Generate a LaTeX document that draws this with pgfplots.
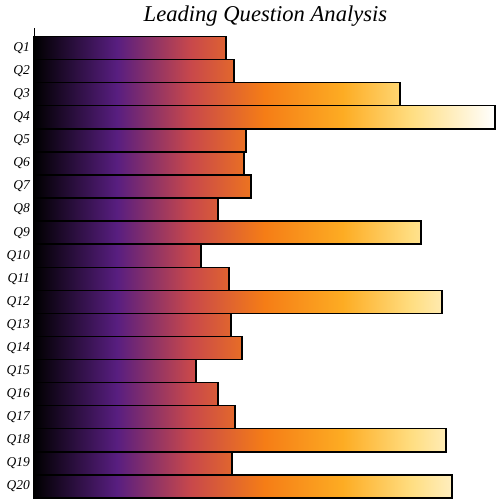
\documentclass[border=0pt]{standalone}
\usepackage{pgfplots}
\pgfplotsset{compat=1.18}
\usepackage{fontspec}
\setmainfont{Liberation Serif}
\definecolor{g0}{RGB}{0,0,0}
\definecolor{g1}{RGB}{88,30,128}
\definecolor{g2}{RGB}{200,72,75}
\definecolor{g3}{RGB}{245,125,22}
\definecolor{g4}{RGB}{253,172,35}
\definecolor{g5}{RGB}{255,222,130}
\definecolor{g6}{RGB}{255,255,255}
\pgfdeclarehorizontalshading{grad}{100bp}{color(0bp)=(g0); color(25bp)=(g0); color(34bp)=(g1); color(42bp)=(g2); color(50bp)=(g3); color(58.5bp)=(g4); color(66bp)=(g5); color(75bp)=(g6); color(100bp)=(g6)}
\begin{document}
\begin{tikzpicture}
\begin{axis}[
  scale only axis,
  width=463pt, height=470pt,
  xmin=0, xmax=463,
  ymin=0.13, ymax=20.5,
  y dir=reverse,
  axis x line=none,
  axis y line*=left,
  axis line style={black, line width=0.8pt},
  xbar, bar width=1,
  ytick={1,...,20},
  yticklabels={Q1,Q2,Q3,Q4,Q5,Q6,Q7,Q8,Q9,Q10,Q11,Q12,Q13,Q14,Q15,Q16,Q17,Q18,Q19,Q20},
  major tick length=0pt,
  yticklabel style={font=\fontsize{13.5}{15}\selectfont\itshape, inner sep=0pt, xshift=-4pt},
  title={Leading Question Analysis},
  title style={font=\fontsize{22.6}{24}\selectfont\itshape, at={(0.5,1)}, anchor=base, inner sep=0pt, yshift=1pt},
  clip=false,
]
\addplot[draw=black, line width=1.4pt,
  path picture={%
    \pgfpathrectangle{\pgfpointadd{\pgfpointanchor{path picture bounding box}{south west}}{\pgfpoint{0pt}{-5pt}}}{\pgfpoint{461pt}{490pt}}%
    \pgfshadepath{grad}{0}%
    \pgfusepath{discard}%
  }]
coordinates {
(192,1) (200,2) (366,3) (461,4) (212,5) (210,6) (217,7) (184,8) (387,9) (167,10)
(195,11) (408,12) (197,13) (208,14) (162,15) (184,16) (201,17) (412,18) (198,19) (418,20)
};
\end{axis}
\pgfresetboundingbox
\path (current axis.south west) ++(-34pt,-3pt) rectangle ([xshift=463pt,yshift=28pt]current axis.north west);
\end{tikzpicture}
\end{document}
